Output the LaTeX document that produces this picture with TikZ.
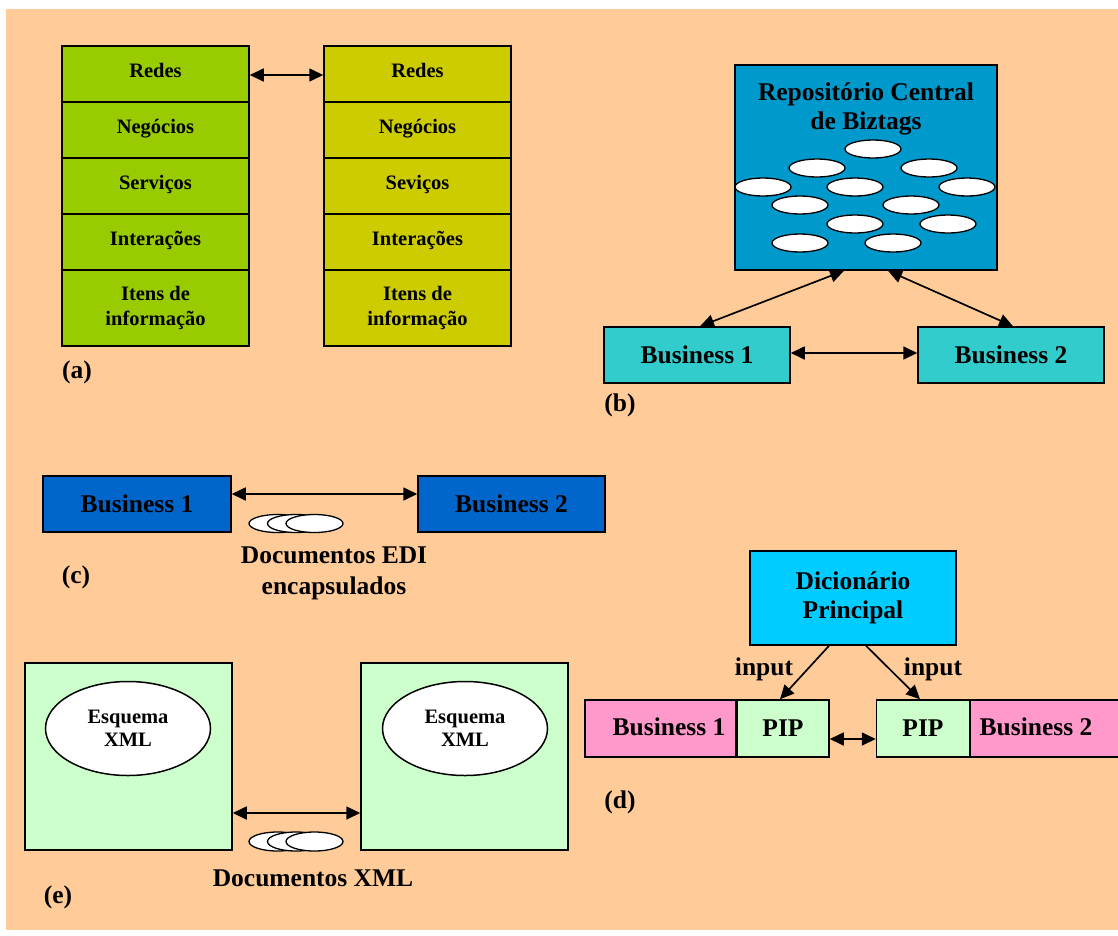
\documentclass[tikz,border=0pt]{standalone}
\usepackage{fontspec}
\setmainfont{Liberation Serif}
\usetikzlibrary{arrows.meta,shapes.geometric}
\definecolor{peach}{HTML}{FFCC99}
\definecolor{leafgreen}{HTML}{99CC00}
\definecolor{olive}{HTML}{CCCC00}
\definecolor{ocean}{HTML}{0099CC}
\definecolor{teal}{HTML}{33CCCC}
\definecolor{royal}{HTML}{0066CC}
\definecolor{sky}{HTML}{00CCFF}
\definecolor{pinkish}{HTML}{FF99CC}
\definecolor{mint}{HTML}{CCFFCC}
\newcommand{\fsSmall}{\fontsize{20.5}{25}\selectfont}
\newcommand{\fsEllipse}{\fontsize{20.5}{23}\selectfont}
\newcommand{\fsBig}{\fontsize{25.5}{29}\selectfont}
\newcommand{\fsBigWide}{\fontsize{25.5}{31}\selectfont}
\begin{document}
\begin{tikzpicture}[x=1pt,y=-1pt,
  box/.style={draw=black, line width=1.5pt, inner sep=0pt, align=center, font=\bfseries\fsBig},
  layer/.style={box, minimum width=187pt, font=\bfseries\fsSmall},
  tag/.style={ellipse, draw=black, fill=white, line width=1.3pt, minimum width=56pt, minimum height=18pt, inner sep=0pt},
  schema/.style={ellipse, draw=black, fill=white, line width=1.5pt, minimum width=165pt, minimum height=94pt, inner sep=0pt, align=center, font=\bfseries\fsEllipse},
  txt/.style={inner sep=0pt, align=center, font=\bfseries\fsBig},
  link/.style={line width=1.7pt, {Triangle[length=14pt,width=13pt]}-{Triangle[length=14pt,width=13pt]}},
  feed/.style={line width=1.7pt, -{Triangle[length=14pt,width=13pt]}},
]
\useasboundingbox (0,0) rectangle (1118,935);
\clip (0,0) rectangle (1118,935);
\fill[white] (0,0) rectangle (1118,935);
\fill[peach] (6,9) rectangle (1118,930);

% ---------- (a) two layered stacks ----------
\node[layer, fill=leafgreen, minimum height=56pt, text depth=7pt] (aL1) at (155.5,74) {Redes};
\node[layer, fill=leafgreen, minimum height=56pt, text depth=7pt] (aL2) at (155.5,130) {Negócios};
\node[layer, fill=leafgreen, minimum height=56pt, text depth=7pt] (aL3) at (155.5,186) {Serviços};
\node[layer, fill=leafgreen, minimum height=56pt, text depth=7pt] (aL4) at (155.5,242) {Interações};
\node[layer, fill=leafgreen, minimum height=76pt] (aL5) at (155.5,308) {Itens de\\informação};

\node[layer, fill=olive, minimum height=56pt, text depth=7pt] (aR1) at (417.5,74) {Redes};
\node[layer, fill=olive, minimum height=56pt, text depth=7pt] (aR2) at (417.5,130) {Negócios};
\node[layer, fill=olive, minimum height=56pt, text depth=7pt] (aR3) at (417.5,186) {Seviços};
\node[layer, fill=olive, minimum height=56pt, text depth=7pt] (aR4) at (417.5,242) {Interações};
\node[layer, fill=olive, minimum height=76pt] (aR5) at (417.5,308) {Itens de\\informação};

\draw[link] ([yshift=-1pt]aL1.east) -- ([yshift=-1pt]aR1.west);
\node[txt] (labA) at (77,372) {(a)};

% ---------- (b) central repository ----------
\node[box, fill=ocean, minimum width=262pt, minimum height=205pt] (repo) at (866,167.5) {};
\node[txt] (repoT) at (866,109) {Repositório Central\\de Biztags};
\node[tag] (t1)  at (873,149) {};
\node[tag] (t2)  at (817,168) {};
\node[tag] (t3)  at (929,168) {};
\node[tag] (t4)  at (763,187) {};
\node[tag] (t5)  at (855,187) {};
\node[tag] (t6)  at (967,187) {};
\node[tag] (t7)  at (800,205) {};
\node[tag] (t8)  at (911,205) {};
\node[tag] (t9)  at (855,224) {};
\node[tag] (t10) at (948,224) {};
\node[tag] (t11) at (800,243) {};
\node[tag] (t12) at (893,243) {};

\node[box, fill=teal, minimum width=186pt, minimum height=56pt] (bB1) at (697,355) {Business 1};
\node[box, fill=teal, minimum width=186pt, minimum height=56pt] (bB2) at (1011,355) {Business 2};
\draw[link] ([xshift=-22pt]repo.south) -- ([xshift=3pt]bB1.north);
\draw[link] ([xshift=22pt]repo.south) -- ([xshift=2pt]bB2.north);
\draw[link] ([yshift=2pt]bB1.east) -- ([yshift=2pt]bB2.west);
\node[txt] (labB) at (620,405) {(b)};

% ---------- (c) EDI exchange ----------
\node[box, fill=royal, minimum width=188pt, minimum height=56pt] (cB1) at (137,504) {Business 1};
\node[box, fill=royal, minimum width=187pt, minimum height=56pt] (cB2) at (511.5,504) {Business 2};
\draw[link] ([yshift=10pt]cB1.east) -- ([yshift=10pt]cB2.west);
\node[tag, minimum width=57pt] (cD1) at (277.5,523.5) {};
\node[tag, minimum width=57pt] (cD2) at (296,523.5) {};
\node[tag, minimum width=57pt] (cD3) at (314.5,523.5) {};
\node[txt, font=\bfseries\fsBigWide] (cDoc) at (334,573) {Documentos EDI\\encapsulados};
\node[txt] (labC) at (76,577) {(c)};

% ---------- (d) dictionary and PIPs ----------
\node[box, fill=sky, minimum width=206pt, minimum height=94pt] (dic) at (853,598) {Dicionário\\Principal};
\node[box, fill=pinkish, minimum width=151pt, minimum height=57pt] (dB1) at (660.5,728.5) {};
\node[box, fill=mint, minimum width=92pt, minimum height=57pt] (p1) at (783,728.5) {PIP};
\node[box, fill=mint, minimum width=93pt, minimum height=57pt] (p2) at (923,728.5) {PIP};
\node[box, fill=pinkish, minimum width=160pt, minimum height=57pt, anchor=west] (dB2) at (969.5,728.5) {};
\node[txt] (dB1T) at (669,727) {Business 1};
\node[txt] (dB2T) at (1036,727) {Business 2};
\draw[feed] ([xshift=-24pt]dic.south) -- ([xshift=-3pt]p1.north);
\draw[feed] ([xshift=13pt]dic.south) -- ([xshift=-3pt]p2.north);
\node[txt] (in1) at (764,669) {input};
\node[txt] (in2) at (933,669) {input};
\draw[link] ([yshift=-10.5pt]p1.east) -- ([yshift=-10.5pt]p2.west);
\node[txt] (labD) at (620,802) {(d)};

% ---------- (e) XML schemas ----------
\node[box, fill=mint, minimum width=207pt, minimum height=187pt] (eL) at (128.5,756.5) {};
\node[box, fill=mint, minimum width=207pt, minimum height=187pt] (eR) at (464.5,756.5) {};
\node[schema] (eLs) at (128,728.5) {Esquema\\XML};
\node[schema] (eRs) at (465,728.5) {Esquema\\XML};
\draw[link] ([yshift=-56.5pt]eL.east) -- ([yshift=-56.5pt]eR.west);
\node[tag, minimum width=57pt, minimum height=19pt] (eD1) at (277.5,841.5) {};
\node[tag, minimum width=57pt, minimum height=19pt] (eD2) at (296,841.5) {};
\node[tag, minimum width=57pt, minimum height=19pt] (eD3) at (314.5,841.5) {};
\node[txt] (eDoc) at (313,878) {Documentos XML};
\node[txt] (labE) at (58,897) {(e)};
\end{tikzpicture}
\end{document}
